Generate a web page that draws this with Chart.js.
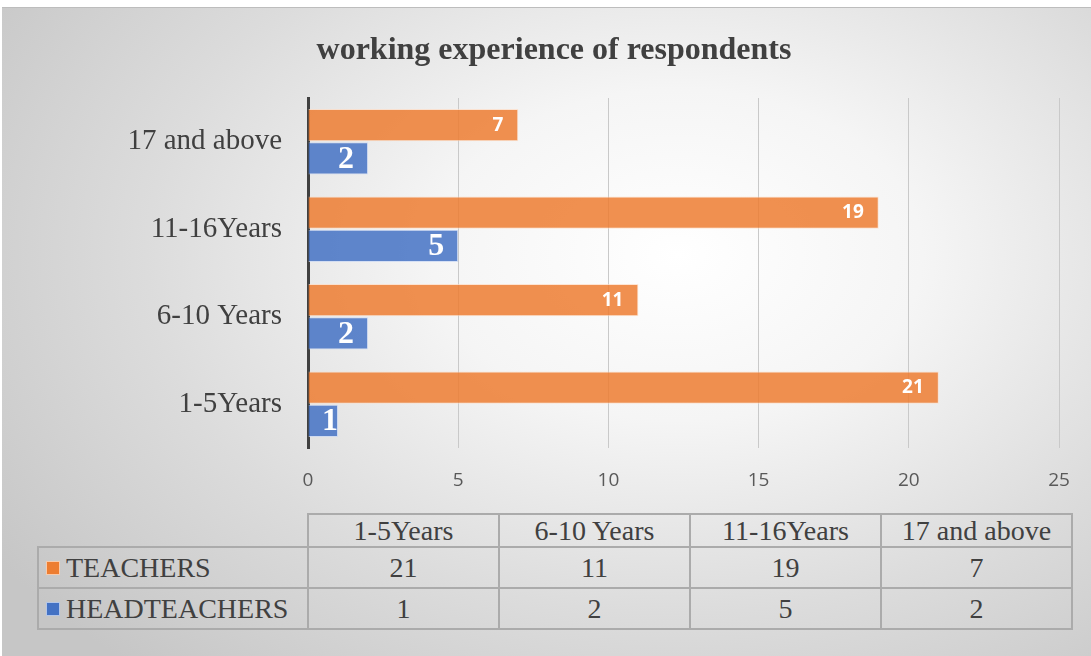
<!DOCTYPE html>
<html>
<head>
<meta charset="utf-8">
<script src="https://cdn.jsdelivr.net/npm/chart.js@4/dist/chart.umd.min.js"></script>
<style>
  html, body { margin: 0; padding: 0; background: #fff; overflow: hidden; }
  #frame {
    position: absolute; left: 2px; top: 7px; width: 1089px; height: 649px;
    background: radial-gradient(ellipse 75% 85% at 62% 38%, #ffffff 0%, #f5f5f5 30%, #dcdcdc 65%, #c6c6c6 100%);
    border-top: 1px solid #bdbdbd;
  }
  #chart { position: absolute; left: 0; top: 0; }
  #title {
    position: absolute; top: 32px; left: 554px; transform: translateX(-50%);
    font: bold 32px "Liberation Serif", serif; line-height: 32px; color: #404040; white-space: nowrap;
  }
  #table {
    position: absolute; left: 37px; top: 513px; border-collapse: collapse;
    font: 28px "Liberation Serif", serif; color: #404040;
  }
  #table td, #table th {
    border: 2px solid #ababab; padding: 0; font-weight: normal; text-align: center; white-space: nowrap;
  }
  #table th.blank { border-top: none; border-left: none; }
  #table tr.head th { height: 31px; line-height: 29px; }
  #table tr.body td { height: 39px; line-height: 37px; }
  #table td.name { text-align: left; padding-left: 7px; }
  .key { display: inline-block; width: 12px; height: 12px; margin-right: 6px; vertical-align: 2px; border: 1px solid rgba(255,255,255,0.6); }
</style>
</head>
<body>
<div id="frame"></div>
<canvas id="chart" width="1091" height="500"></canvas>
<div id="title">working experience of respondents</div>
<table id="table"></table>
<script>
  const categories = ['1-5Years', '6-10 Years', '11-16Years', '17 and above'];
  const teachers = [21, 11, 19, 7];
  const headteachers = [1, 2, 5, 2];
  const seriesNames = ['TEACHERS', 'HEADTEACHERS'];
  const xTicks = [0, 5, 10, 15, 20, 25];

  const orange = 'rgba(237, 125, 49, 0.85)';
  const blue = 'rgba(68, 114, 196, 0.85)';

  // white value labels drawn just inside the end of each bar
  const barLabels = {
    id: 'barLabels',
    afterDatasetsDraw(chart) {
      const ctx = chart.ctx;
      chart.data.datasets.forEach((ds, i) => {
        const meta = chart.getDatasetMeta(i);
        ctx.save();
        ctx.font = ds.labelFont;
        ctx.fillStyle = '#ffffff';
        ctx.textAlign = 'right';
        ctx.textBaseline = 'middle';
        meta.data.forEach((bar, j) => {
          const text = String(ds.data[j]);
          const w = ctx.measureText(text).width;
          let x = bar.x - ds.labelPad;
          if (x - w < bar.base + 10) x = bar.x;
          ctx.fillText(text, x, bar.y + ds.labelShift);
        });
        ctx.restore();
      });
    }
  };

  const ctx = document.getElementById('chart').getContext('2d');
  const chart = new Chart(ctx, {
    type: 'bar',
    data: {
      labels: categories,
      datasets: [
        {
          label: seriesNames[0],
          data: teachers,
          backgroundColor: orange,
          borderColor: 'rgba(255, 220, 195, 0.7)',
          borderWidth: 1,
          labelFont: 'bold 19px "Open Sans", sans-serif',
          labelPad: 15,
          labelShift: 0
        },
        {
          label: seriesNames[1],
          data: headteachers,
          backgroundColor: blue,
          borderColor: 'rgba(200, 215, 245, 0.7)',
          borderWidth: 1,
          labelFont: 'bold 32px "Liberation Serif", serif',
          labelPad: 14,
          labelShift: 1
        }
      ]
    },
    options: {
      indexAxis: 'y',
      responsive: false,
      animation: false,
      categoryPercentage: 0.76,
      barPercentage: 0.97,
      layout: { padding: { top: 98, right: 32, left: 0, bottom: 0 } },
      plugins: {
        legend: { display: false },
        title: { display: false },
        tooltip: { enabled: false }
      },
      scales: {
        x: {
          min: 0,
          max: 25,
          afterBuildTicks: (scale) => { scale.ticks = xTicks.map(v => ({ value: v })); },
          afterFit: (scale) => { scale.height = 52; },
          ticks: {
            color: '#595959',
            padding: 21,
            font: { family: '"Open Sans", sans-serif', size: 19 }
          },
          grid: { color: '#c9c9c9', drawTicks: false },
          border: { display: false }
        },
        y: {
          reverse: true,
          afterFit: (scale) => { scale.width = 308; },
          ticks: {
            color: '#404040',
            padding: 26,
            font: { family: '"Liberation Serif", serif', size: 29 }
          },
          grid: { display: false, drawTicks: false },
          border: { color: '#404040', width: 3 }
        }
      }
    },
    plugins: [barLabels]
  });

  // data table under the chart, built from the same arrays
  const table = document.getElementById('table');
  const colW = 191;
  let html = '<tr class="head"><th class="blank" style="width:269px"></th>';
  categories.forEach(c => { html += `<th style="width:${colW - 2}px">${c}</th>`; });
  html += '</tr>';
  [[teachers, '#ED7D31'], [headteachers, '#4472C4']].forEach(([vals, col], i) => {
    html += `<tr class="body"><td class="name"><span class="key" style="background:${col}"></span>${seriesNames[i]}</td>`;
    vals.forEach(v => { html += `<td>${v}</td>`; });
    html += '</tr>';
  });
  table.innerHTML = html;
</script>
</body>
</html>
